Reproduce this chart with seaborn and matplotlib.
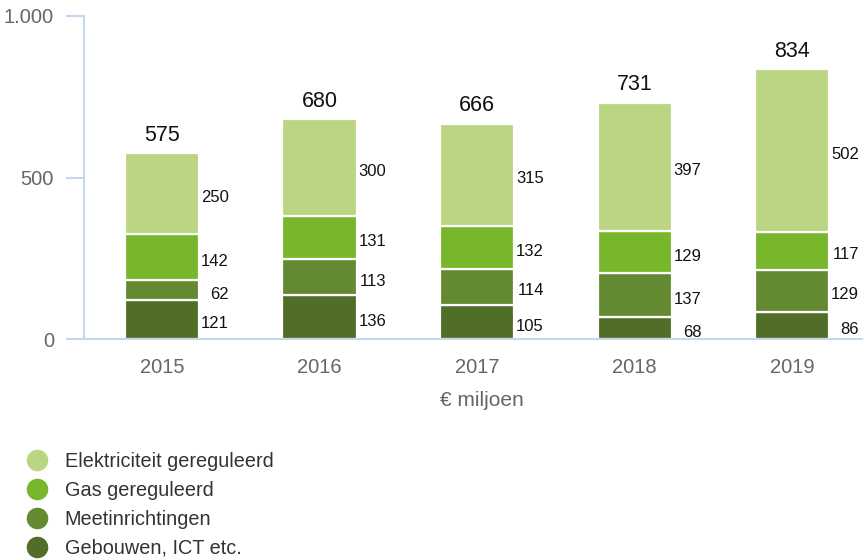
import matplotlib
matplotlib.use("Agg")
import matplotlib.pyplot as plt
from matplotlib.lines import Line2D
import seaborn as sns
import pandas as pd
import numpy as np

# data (€ miljoen)
jaren = ["2015", "2016", "2017", "2018", "2019"]
gebouwen = [121, 136, 105, 68, 86]
meetinrichtingen = [62, 113, 114, 137, 129]
gas = [142, 131, 132, 129, 117]
elektriciteit = [250, 300, 315, 397, 502]
totaal = [575, 680, 666, 731, 834]

series = ["Gebouwen, ICT etc.", "Meetinrichtingen", "Gas gereguleerd", "Elektriciteit gereguleerd"]
kleuren = ["#506e27", "#638a30", "#78b62c", "#bad683"]

df = pd.DataFrame({
    "jaar": jaren * 4,
    "serie": np.repeat(series, len(jaren)),
    "waarde": gebouwen + meetinrichtingen + gas + elektriciteit,
})

sns.set_style("white")
plt.rcParams["font.family"] = ["Liberation Sans", "DejaVu Sans"]

fig = plt.figure(figsize=(8.63, 5.59), dpi=100)
ax = fig.add_axes([0.0973, 0.3927, 0.9027, 0.5794])

breedte = 0.47
bodem = np.zeros(len(jaren))
for serie, kleur in zip(series, kleuren):
    sub = df[df["serie"] == serie]
    sns.barplot(data=sub, x="jaar", y="waarde", order=jaren, color=kleur,
                saturation=1, width=breedte, bottom=bodem.copy(), errorbar=None,
                edgecolor="white", linewidth=1.6, ax=ax)
    # waarde rechts naast elk segment
    for i, v in enumerate(sub["waarde"]):
        ax.annotate(str(v), (i + breedte / 2 + 0.19, bodem[i] + v / 2),
                    xytext=(0, -2.8), textcoords="offset points",
                    ha="right", va="center", fontsize=12, color="#111111")
    bodem += sub["waarde"].to_numpy()

for i, t in enumerate(totaal):
    ax.annotate(str(t), (i, t), xytext=(0, 5.5), textcoords="offset points",
                ha="center", va="bottom", fontsize=15.5, color="#111111")

ax.set_xlim(-0.495, 4.45)
ax.set_ylim(0, 1000)
ax.set_yticks([0, 500, 1000], ["0", "500", "1.000"])

asblauw = "#c9d4f0"
sns.despine(ax=ax, top=True, right=True)
for s in ["left", "bottom"]:
    ax.spines[s].set_color(asblauw)
    ax.spines[s].set_linewidth(1.5)
ax.tick_params(axis="y", length=13, width=1.5, color=asblauw, pad=8.5,
               labelsize=14.5, labelcolor="#666666", left=True)
ax.tick_params(axis="x", length=0, pad=13, labelsize=14.5, labelcolor="#666666")
ax.set_xlabel("€ miljoen", fontsize=15, color="#666666")
ax.xaxis.set_label_coords(0.511, -0.16)
ax.set_ylabel("")

handles = [Line2D([], [], marker="o", ls="", markersize=14.5,
                  markerfacecolor=k, markeredgecolor=k)
           for k in kleuren[::-1]]
fig.legend(handles, series[::-1], loc="upper left",
           bbox_to_anchor=(23 / 863, 1 - 452 / 559), frameon=False,
           fontsize=14.3, labelcolor="#333333", borderpad=0, borderaxespad=0,
           handlelength=1.4, handletextpad=0.7, labelspacing=0.5)

fig.savefig("out.png", dpi=100)
